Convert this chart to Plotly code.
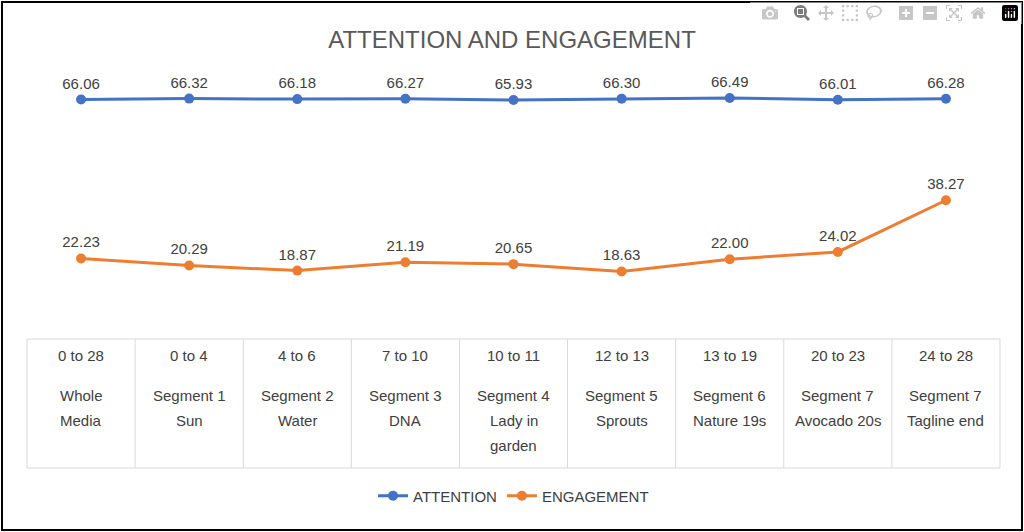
import plotly.graph_objects as go

ranges = ["0 to 28", "0 to 4", "4 to 6", "7 to 10", "10 to 11", "12 to 13", "13 to 19", "20 to 23", "24 to 28"]
names = [["Whole", "Media"], ["Segment 1", "Sun"], ["Segment 2", "Water"], ["Segment 3", "DNA"],
         ["Segment 4", "Lady in", "garden"], ["Segment 5", "Sprouts"], ["Segment 6", "Nature 19s"],
         ["Segment 7", "Avocado 20s"], ["Segment 7", "Tagline end"]]
attention = [66.06, 66.32, 66.18, 66.27, 65.93, 66.30, 66.49, 66.01, 66.28]
engagement = [22.23, 20.29, 18.87, 21.19, 20.65, 18.63, 22.00, 24.02, 38.27]

idx = list(range(len(ranges)))
fig = go.Figure()
for name, vals, col in [("ATTENTION", attention, "#4472C4"), ("ENGAGEMENT", engagement, "#ED7D31")]:
    fig.add_trace(go.Scatter(x=idx, y=vals, name=name, mode="lines+markers+text",
                             line=dict(color=col, width=3), marker=dict(color=col, size=10),
                             text=[f"{v:.2f}" for v in vals], textposition="top center",
                             textfont=dict(size=15, color="#404040")))

def py(p):
    return (339 - p) / 290

shapes = [dict(type="rect", xref="paper", yref="paper", x0=-0.0257, x1=1.0226, y0=-0.659, y1=1.162,
               line=dict(color="black", width=2))]
for i in range(10):
    shapes.append(dict(type="line", xref="paper", yref="paper", x0=i / 9, x1=i / 9, y0=0, y1=py(468),
                       line=dict(color="#D9D9D9", width=1)))
for yy in [0, py(468)]:
    shapes.append(dict(type="line", xref="paper", yref="paper", x0=0, x1=1, y0=yy, y1=yy,
                       line=dict(color="#D9D9D9", width=1)))

ann = []
f = dict(size=15, color="#404040")
for i in idx:
    ann.append(dict(x=i, y=py(366), xref="x", yref="paper", text=ranges[i], showarrow=False, font=f))
    for j, t in enumerate(names[i]):
        ann.append(dict(x=i, y=py(406 + 25 * j), xref="x", yref="paper", text=t, showarrow=False, font=f))

fig.update_layout(
    width=1024, height=532, margin=dict(l=27, r=24, t=49, b=193),
    paper_bgcolor="white", plot_bgcolor="white",
    title=dict(text="ATTENTION AND ENGAGEMENT", x=0.5, xanchor="center", y=0.925, yanchor="middle",
               font=dict(size=24, color="#595959")),
    xaxis=dict(range=[-0.5, 8.5], showticklabels=False, showgrid=False, zeroline=False),
    yaxis=dict(range=[0, 80], showticklabels=False, showgrid=False, zeroline=False),
    legend=dict(orientation="h", x=0.5, xanchor="center", y=py(496), yanchor="middle",
                font=dict(size=15, color="#404040")),
    shapes=shapes, annotations=ann, font=dict(family="Liberation Sans"),
)
fig.write_html("out.html", post_script="document.body.style.margin='0px';")
